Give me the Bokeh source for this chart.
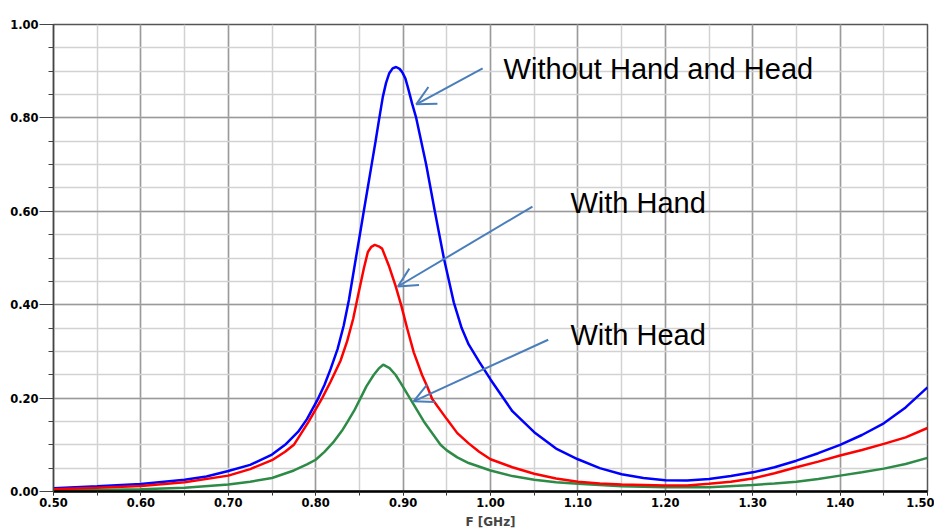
from bokeh.plotting import figure
from bokeh.models import (Range1d, SingleIntervalTicker, PrintfTickFormatter,
                          Label, Arrow, OpenHead)
from bokeh.embed import file_html
from bokeh.resources import INLINE

# ---- data ----
freq_blue = [0.50, 0.55, 0.60, 0.65, 0.675, 0.70, 0.725, 0.75, 0.765, 0.78,
             0.79, 0.8017, 0.81, 0.817, 0.825, 0.832, 0.838, 0.846, 0.851,
             0.855, 0.8595, 0.864, 0.8685, 0.8728, 0.8768, 0.8805, 0.884,
             0.888, 0.892, 0.896, 0.899, 0.9025, 0.9054, 0.9104, 0.915,
             0.9207, 0.9264, 0.9363, 0.9466, 0.952, 0.958, 0.967, 0.975,
             0.987, 1.00, 1.025, 1.05, 1.075, 1.10, 1.125, 1.15, 1.175, 1.20,
             1.225, 1.25, 1.275, 1.30, 1.325, 1.35, 1.375, 1.40, 1.425, 1.45,
             1.475, 1.50]
s_blue = [0.007, 0.011, 0.016, 0.025, 0.032, 0.044, 0.057, 0.079, 0.100, 0.128,
          0.155, 0.195, 0.228, 0.262, 0.305, 0.355, 0.410, 0.500, 0.555,
          0.600, 0.650, 0.700, 0.750, 0.800, 0.845, 0.875, 0.895,
          0.906, 0.909, 0.905, 0.898, 0.885, 0.866, 0.830, 0.800,
          0.750, 0.700, 0.600, 0.500, 0.455, 0.405, 0.350, 0.315,
          0.278, 0.240, 0.172, 0.127, 0.092, 0.069, 0.050, 0.037, 0.029, 0.024,
          0.0235, 0.027, 0.033, 0.041, 0.052, 0.066, 0.082, 0.100, 0.121, 0.146,
          0.180, 0.223]

freq_red = [0.50, 0.55, 0.60, 0.65, 0.70, 0.725, 0.75, 0.765, 0.775, 0.7914,
            0.8074, 0.817, 0.8284, 0.836, 0.8429, 0.8493, 0.855, 0.8597,
            0.8637, 0.8676, 0.872, 0.876, 0.8836, 0.8913, 0.8978, 0.9047,
            0.9122, 0.9218, 0.9276, 0.9333, 0.95, 0.962, 0.975, 0.987, 1.00,
            1.025, 1.05, 1.075, 1.10, 1.125, 1.15, 1.175, 1.20, 1.225, 1.25,
            1.275, 1.30, 1.325, 1.35, 1.375, 1.40, 1.425, 1.45, 1.475, 1.50]
s_red = [0.005, 0.008, 0.012, 0.020, 0.034, 0.048, 0.067, 0.085, 0.100, 0.148,
         0.200, 0.235, 0.280, 0.322, 0.370, 0.427, 0.477, 0.513,
         0.524, 0.528, 0.525, 0.520, 0.484, 0.441, 0.399, 0.349,
         0.298, 0.249, 0.225, 0.198, 0.155, 0.125, 0.103, 0.085, 0.069,
         0.052, 0.038, 0.028, 0.021, 0.017, 0.015, 0.014, 0.013, 0.013, 0.0165,
         0.021, 0.028, 0.039, 0.052, 0.064, 0.077, 0.089, 0.102, 0.116, 0.136]

freq_green = [0.50, 0.55, 0.60, 0.65, 0.70, 0.725, 0.75, 0.775, 0.79, 0.80,
              0.81, 0.82, 0.83, 0.836, 0.844, 0.8513, 0.858, 0.8665, 0.872,
              0.8772, 0.8845, 0.8913, 0.897, 0.9077, 0.9237, 0.9428, 0.95,
              0.962, 0.975, 1.00, 1.025, 1.05, 1.075, 1.10, 1.15, 1.20, 1.25,
              1.30, 1.325, 1.35, 1.375, 1.40, 1.425, 1.45, 1.475, 1.50]
s_green = [0.002, 0.003, 0.005, 0.008, 0.015, 0.021, 0.029, 0.045, 0.058, 0.068,
           0.085, 0.105, 0.130, 0.148, 0.173, 0.200, 0.225, 0.250, 0.263,
           0.2715, 0.264, 0.250, 0.233, 0.200, 0.150, 0.100, 0.088,
           0.073, 0.061, 0.045, 0.033, 0.025, 0.020, 0.0165, 0.011, 0.009, 0.009,
           0.014, 0.017, 0.021, 0.027, 0.034, 0.041, 0.049, 0.059, 0.072]

labels = ["Without Hand and Head", "With Hand", "With Head"]
label_x = [1.015, 1.0915, 1.0915]
label_y = [0.905, 0.618, 0.336]
arrow_start_x = [0.991, 1.048, 1.066]
arrow_start_y = [0.906, 0.610, 0.325]
arrow_end_x = [0.915, 0.894, 0.912]
arrow_end_y = [0.829, 0.439, 0.193]

x_label = "F [GHz]"

# ---- figure ----
p = figure(width=934, height=531, x_range=Range1d(0.5, 1.5), y_range=Range1d(0, 1.0),
           output_backend="svg", toolbar_location=None,
           min_border_left=53, min_border_right=7, min_border_top=24,
           min_border_bottom=40)
p.background_fill_color = "white"
p.border_fill_color = "white"
p.outline_line_color = "#555555"
p.outline_line_width = 1.5

xt = SingleIntervalTicker(interval=0.1, num_minor_ticks=2)
yt = SingleIntervalTicker(interval=0.2, num_minor_ticks=4)
p.xaxis.ticker = xt
p.yaxis.ticker = yt
p.xgrid.ticker = xt
p.ygrid.ticker = yt

for g in (p.xgrid, p.ygrid):
    g.grid_line_color = "#9a9a9a"
    g.grid_line_width = 1.5
    g.minor_grid_line_color = "#d2d2d2"
    g.minor_grid_line_width = 1.5

for ax in (p.xaxis, p.yaxis):
    ax.formatter = PrintfTickFormatter(format="%.2f")
    ax.major_label_text_font = "DejaVu Sans"
    ax.major_label_text_font_style = "bold"
    ax.major_label_text_font_size = "11.5px"
    ax.major_label_text_color = "black"

p.xaxis.axis_line_color = "black"
p.xaxis.axis_line_width = 2.5
p.xaxis.major_tick_line_color = "#333333"
p.xaxis.minor_tick_line_color = "#333333"
p.xaxis.major_tick_in = 0
p.xaxis.major_tick_out = 4
p.xaxis.minor_tick_in = 0
p.xaxis.minor_tick_out = 4
p.xaxis.major_label_standoff = 2
p.xaxis.axis_label = x_label
p.xaxis.axis_label_text_font = "DejaVu Sans"
p.xaxis.axis_label_text_font_style = "bold"
p.xaxis.axis_label_text_font_size = "12px"
p.xaxis.axis_label_standoff = 5

p.yaxis.axis_line_color = "#444444"
p.yaxis.axis_line_width = 1.5
p.yaxis.major_tick_line_color = "#444444"
p.yaxis.minor_tick_line_color = "#444444"
p.yaxis.major_tick_in = 0
p.yaxis.major_tick_out = 14
p.yaxis.minor_tick_in = 0
p.yaxis.minor_tick_out = 5
p.yaxis.major_label_standoff = 1

p.line(freq_blue, s_blue, line_color="#0000ff", line_width=2.5)
p.line(freq_green, s_green, line_color="#2e8b47", line_width=2.5)
p.line(freq_red, s_red, line_color="#ff0000", line_width=2.5)

for t, lx, ly in zip(labels, label_x, label_y):
    p.add_layout(Label(x=lx, y=ly, text=t, text_font="Liberation Sans",
                       text_font_size="29px", text_color="black",
                       text_baseline="alphabetic", text_align="left"))

for xs, ys, xe, ye in zip(arrow_start_x, arrow_start_y, arrow_end_x, arrow_end_y):
    p.add_layout(Arrow(x_start=xs, y_start=ys, x_end=xe, y_end=ye,
                       line_color="#4a7ebb", line_width=2,
                       end=OpenHead(size=19, line_color="#4a7ebb", line_width=2)))

open("out.html", "w").write(file_html(p, INLINE))
